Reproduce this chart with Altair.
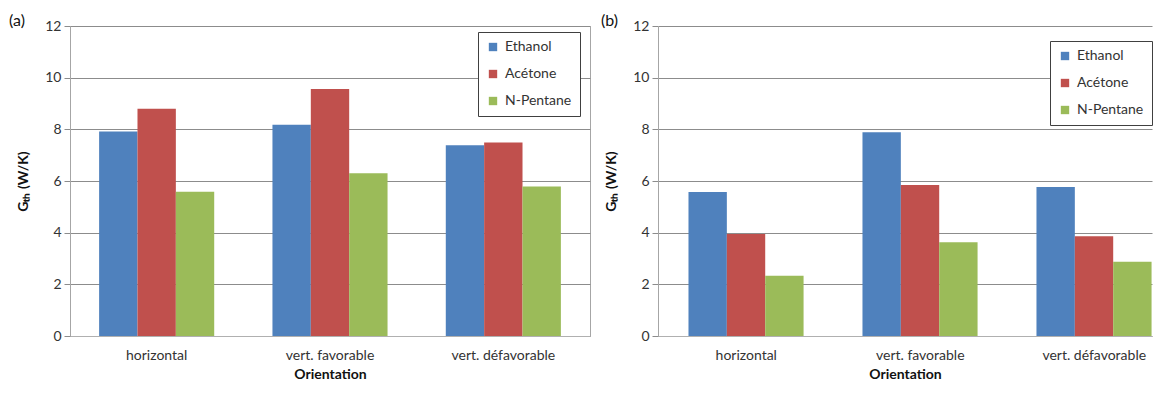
import altair as alt
import pandas as pd

orientations = ["horizontal", "vert. favorable", "vert. défavorable"]
fluids = ["Ethanol", "Acétone", "N-Pentane"]
colors = ["#4F81BD", "#C0504D", "#9BBB59"]
y_ticks = [0, 2, 4, 6, 8, 10, 12]

# Panel (a)
a_ethanol = [7.92, 8.18, 7.38]
a_acetone = [8.80, 9.56, 7.49]
a_pentane = [5.58, 6.30, 5.79]

# Panel (b)
b_ethanol = [5.57, 7.89, 5.77]
b_acetone = [3.95, 5.85, 3.86]
b_pentane = [2.33, 3.63, 2.87]

FONT = "Lato"
TXT = "#333333"
GRID = "#8c8c8c"


def make_df(eth, ace, pen):
    rows = []
    for i, o in enumerate(orientations):
        for f, vals in zip(fluids, [eth, ace, pen]):
            rows.append({"Orientation": o, "Fluide": f, "Gth": vals[i]})
    return pd.DataFrame(rows)


def panel(df, label, width, pad_outer, align, title_dx, legend_x, legend_y, stroke):
    return alt.Chart(df).mark_bar().encode(
        x=alt.X("Orientation:N", sort=orientations,
                scale=alt.Scale(paddingInner=0.336, paddingOuter=pad_outer,
                                align=align),
                axis=alt.Axis(title="Orientation", labelAngle=0, ticks=False,
                              domainColor="#b0b0b0",
                              labelPadding=12, titlePadding=5, labelFontSize=14,
                              titleFontSize=14, titleFontWeight="bold",
                              labelColor=TXT, titleColor="#111")),
        xOffset=alt.XOffset("Fluide:N", sort=fluids,
                            scale=alt.Scale(paddingInner=0, paddingOuter=0)),
        y=alt.Y("Gth:Q", scale=alt.Scale(domain=[0, 12], nice=False),
                axis=alt.Axis(title="Gₜₕ (W/K)", values=y_ticks, grid=True,
                              gridColor=GRID, domainColor="#a6a6a6",
                              tickColor=GRID, tickSize=6, labelPadding=3,
                              labelFontSize=14, labelColor=TXT,
                              titleFontSize=14, titleFontWeight="bold",
                              titleColor="#111", titlePadding=14)),
        color=alt.Color("Fluide:N", sort=fluids,
                        scale=alt.Scale(domain=fluids, range=colors),
                        legend=alt.Legend(orient="none", legendX=legend_x,
                                          legendY=legend_y, title=None,
                                          symbolType="square", symbolSize=70,
                                          symbolStrokeWidth=0,
                                          labelFontSize=14, labelColor=TXT,
                                          labelFont=FONT, labelOffset=5,
                                          rowPadding=13, padding=8,
                                          strokeColor="#404040",
                                          fillColor="white")),
    ).properties(
        width=width, height=310,
        view=alt.ViewBackground(stroke=stroke),
        title=alt.TitleParams(label, anchor="start", frame="group",
                              dx=title_dx, fontSize=16,
                              fontWeight="normal", font=FONT, color="#111",
                              offset=-10),
    )


left = panel(make_df(a_ethanol, a_acetone, a_pentane), "(a)", 520, 0.168, 0.5,
             -61, 408, 6, "#a6a6a6")
right = panel(make_df(b_ethanol, b_acetone, b_pentane), "(b)", 494, 0.0876, 1.0,
              -57, 392, 15, "transparent")

chart = alt.hconcat(left, right, spacing=9).resolve_legend(
    color="independent").resolve_scale(x="independent").configure(
    font=FONT, padding={"top": 4, "left": 0, "right": 0, "bottom": 0}
).configure_view(strokeWidth=1)

chart.save("out.html", embed_options={"renderer": "svg", "actions": False})
